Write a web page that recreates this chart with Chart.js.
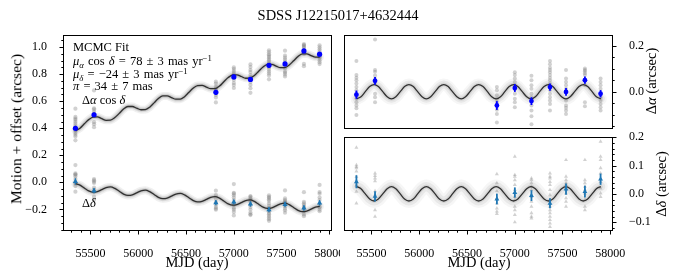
<!DOCTYPE html>
<html><head><meta charset="utf-8">
<script src="https://cdn.jsdelivr.net/npm/chart.js@4/dist/chart.umd.min.js"></script>
<style>
html,body{margin:0;padding:0;background:#fff;}
body{width:677px;height:280px;overflow:hidden;position:relative;font-family:"Liberation Serif",serif;color:#000;}
canvas{position:absolute;}
.t{position:absolute;white-space:nowrap;line-height:1;font-family:"Liberation Serif",serif;color:#000;}
.r{transform:translate(-50%,-50%) rotate(-90deg);}
.c{transform:translate(-50%,0);}
.sb{font-size:70%;vertical-align:-0.3em;}
.sp{font-size:70%;vertical-align:0.5em;}
</style></head><body>
<canvas id="cL" width="340" height="280" style="left:0;top:0"></canvas>
<canvas id="cRA" width="337" height="135" style="left:340px;top:0"></canvas>
<canvas id="cDE" width="337" height="150" style="left:340px;top:130px"></canvas>

<div class="t c" style="left:338px;top:8px;font-size:14.5px">SDSS J12215017+4632444</div>
<div class="t r" style="left:16px;top:129px;font-size:15.5px">Motion + offset (arcsec)</div>
<div class="t c" style="left:197px;top:255px;font-size:14.5px">MJD (day)</div>
<div class="t c" style="left:479px;top:255px;font-size:14.5px">MJD (day)</div>
<div class="t r" style="left:651px;top:81px;font-size:14.5px">Δ<i>α</i> (arcsec)</div>
<div class="t r" style="left:661px;top:184px;font-size:14.5px">Δ<i>δ</i> (arcsec)</div>

<div class="t" style="left:73px;top:41px;font-size:12.5px">MCMC Fit</div>
<div class="t" style="left:73px;top:54px;font-size:12.5px;word-spacing:1px"><i>μ</i><span class="sb"><i>α</i></span> cos <i>δ</i> = 78 ± 3 mas yr<span class="sp">−1</span></div>
<div class="t" style="left:73px;top:67px;font-size:12.5px;word-spacing:1px"><i>μ</i><span class="sb"><i>δ</i></span> = −24 ± 3 mas yr<span class="sp">−1</span></div>
<div class="t" style="left:73px;top:80px;font-size:12.5px;word-spacing:1px"><i>π</i> = 34 ± 7 mas</div>
<div class="t" style="left:82px;top:94px;font-size:12.5px">Δ<i>α</i> cos <i>δ</i></div>
<div class="t" style="left:82px;top:197px;font-size:12.5px">Δ<i>δ</i></div>

<script>
// ---------------- data ----------------
const epochMJD = [55343, 55538, 56814, 57002, 57176, 57370, 57538, 57736, 57900];

// right panels: parallax-only residuals
const raMean  = [-0.013, 0.047, -0.060, 0.016, -0.041, 0.020, -0.001, 0.050, -0.009];
const raErr   = [0.018, 0.017, 0.019, 0.017, 0.017, 0.016, 0.017, 0.016, 0.016];
const decMean = [0.043, -0.009, -0.018, 0.005, -0.006, -0.033, 0.017, 0.008, 0.052];
const decErr  = [0.023, 0.018, 0.019, 0.018, 0.019, 0.018, 0.020, 0.021, 0.020];

// left panel: motion + offset
const raMotionMean  = [0.400, 0.500, 0.666, 0.780, 0.761, 0.866, 0.876, 0.972, 0.948];
const decMotionMean = [0.007, -0.062, -0.151, -0.146, -0.161, -0.203, -0.164, -0.190, -0.152];

const raSingle = [
  [0.133,0.072,0.060,0.050,0.035,0.020,0.006,-0.010,-0.030,-0.046,-0.060,-0.072,-0.101],
  [0.226,0.094,0.086,0.070,0.055,0.040,-0.009,-0.024,-0.046],
  [0.020,0.006,-0.016,-0.031,-0.045,-0.060,-0.078,-0.097,-0.134],
  [0.084,0.072,0.057,0.042,0.028,0.010,-0.009,-0.031,-0.046,-0.068],
  [0.069,0.050,0.028,0.013,-0.009,-0.024,-0.060,-0.082,-0.107,-0.141],
  [0.133,0.119,0.104,0.094,0.084,0.072,0.060,0.050,0.035,0.021,0.006,-0.009,-0.024,-0.038,-0.053,-0.082],
  [0.094,0.057,0.042,0.028,0.013,-0.038,-0.060,-0.070,-0.082,-0.097],
  [0.101,0.094,0.089,0.080,0.072,0.050,0.028,-0.046,-0.063],
  [0.057,0.042,0.028,0.013,-0.024,-0.038,-0.053,-0.068,-0.082]
];
const decSingle = [
  [0.164,0.102,0.096,0.091,0.080,0.060,0.030,0.008,-0.033],
  [0.073,0.064,0.055,0.045,0.010,-0.004,-0.021,-0.057,-0.080],
  [0.070,0.038,0.010,-0.015,-0.033,-0.051,-0.062,-0.070],
  [0.132,0.067,0.061,0.049,0.032,0.014,-0.010,-0.021,-0.045,-0.057,-0.074,-0.100],
  [0.055,0.049,0.038,0.026,0.014,-0.010,-0.027,-0.045,-0.068,-0.080,-0.086],
  [0.073,0.061,0.055,0.043,0.032,0.014,-0.004,-0.021,-0.045,-0.057,-0.068,-0.080,-0.092,-0.104,-0.116],
  [0.120,0.061,0.049,0.038,0.032,0.002,-0.015,-0.027,-0.045],
  [0.120,0.049,0.038,0.026,0.014,0.002,-0.021,-0.045,-0.057],
  [0.185,0.132,0.120,0.091,0.073,0.043,0.020,0.002,-0.010]
];
const raMotionSingle = [
  [0.545,0.484,0.472,0.462,0.447,0.432,0.418,0.402,0.382,0.366,0.352,0.340,0.311],
  [0.680,0.548,0.540,0.524,0.509,0.494,0.445,0.430,0.408],
  [0.745,0.731,0.709,0.694,0.680,0.665,0.647,0.628,0.591],
  [0.850,0.838,0.823,0.808,0.794,0.776,0.757,0.735,0.720,0.698],
  [0.872,0.853,0.831,0.816,0.794,0.779,0.743,0.721,0.696,0.662],
  [0.977,0.963,0.948,0.938,0.928,0.916,0.904,0.894,0.879,0.865,0.850,0.835,0.820,0.806,0.791,0.762],
  [0.974,0.937,0.922,0.908,0.893,0.842,0.820,0.810,0.798,0.783],
  [1.023,1.016,1.011,1.002,0.994,0.972,0.950,0.876,0.859],
  [1.014,0.999,0.985,0.970,0.933,0.919,0.904,0.889,0.875]
];
const decMotionSingle = [
  [0.128,0.066,0.060,0.055,0.044,0.024,-0.006,-0.028,-0.069],
  [0.024,0.015,0.006,-0.004,-0.039,-0.053,-0.070,-0.106,-0.129],
  [-0.062,-0.094,-0.122,-0.147,-0.165,-0.183,-0.194,-0.202],
  [-0.013,-0.078,-0.084,-0.096,-0.113,-0.131,-0.155,-0.166,-0.190,-0.202,-0.219,-0.245],
  [-0.101,-0.107,-0.118,-0.130,-0.142,-0.166,-0.183,-0.201,-0.224,-0.236,-0.242],
  [-0.096,-0.108,-0.114,-0.126,-0.137,-0.155,-0.173,-0.190,-0.214,-0.226,-0.237,-0.249,-0.261,-0.273,-0.285],
  [-0.060,-0.119,-0.131,-0.142,-0.148,-0.178,-0.195,-0.207,-0.225],
  [-0.073,-0.144,-0.155,-0.167,-0.179,-0.191,-0.214,-0.238,-0.250],
  [-0.019,-0.072,-0.084,-0.113,-0.131,-0.161,-0.184,-0.202,-0.214]
];

// model curves
const modelMJD = [
  55345,55391,55436,55482,55528,55573,55619,55665,
  55710,55756,55802,55847,55893,55939,55984,56030,
  56075,56121,56167,56212,56258,56304,56349,56395,
  56441,56486,56532,56578,56623,56669,56715,56760,
  56806,56852,56897,56943,56989,57034,57080,57126,
  57171,57217,57262,57308,57354,57400,57445,57491,
  57537,57582,57628,57674,57719,57765,57811,57856,
  57902];
const raModel = [
  -0.031,-0.022,0,0.022,0.031,0.022,0,-0.022,
  -0.031,-0.022,0,0.022,0.031,0.022,0,-0.022,
  -0.031,-0.022,0,0.022,0.031,0.022,0,-0.022,
  -0.031,-0.022,0,0.022,0.031,0.022,0,-0.022,
  -0.031,-0.022,0,0.022,0.031,0.022,0,-0.022,
  -0.031,-0.022,0,0.022,0.031,0.022,0,-0.022,
  -0.031,-0.022,0,0.022,0.031,0.022,0,-0.022,
  -0.031];
const decModel = [
  0.026,0.018,0,-0.018,-0.025,-0.018,0,0.018,
  0.026,0.018,0,-0.018,-0.025,-0.018,0,0.018,
  0.026,0.018,0,-0.018,-0.025,-0.018,0,0.018,
  0.026,0.018,0,-0.018,-0.025,-0.018,0,0.018,
  0.026,0.018,0,-0.018,-0.025,-0.018,0,0.018,
  0.026,0.018,0,-0.018,-0.025,-0.018,0,0.018,
  0.026,0.018,0,-0.018,-0.025,-0.018,0,0.018,
  0.026];
const raMotionModel = [
  0.382,0.401,0.433,0.464,0.483,0.484,0.471,0.459,
  0.460,0.479,0.510,0.542,0.561,0.561,0.549,0.537,
  0.538,0.556,0.588,0.620,0.639,0.639,0.627,0.615,
  0.615,0.634,0.666,0.698,0.716,0.717,0.705,0.693,
  0.693,0.712,0.744,0.775,0.794,0.795,0.783,0.770,
  0.771,0.790,0.822,0.853,0.872,0.873,0.860,0.848,
  0.849,0.868,0.899,0.931,0.950,0.951,0.938,0.926,
  0.927];
const decMotionModel = [
  -0.010,-0.021,-0.042,-0.063,-0.073,-0.069,-0.054,-0.039,
  -0.034,-0.045,-0.066,-0.087,-0.097,-0.093,-0.078,-0.063,
  -0.058,-0.069,-0.090,-0.111,-0.121,-0.117,-0.102,-0.087,
  -0.082,-0.093,-0.114,-0.135,-0.145,-0.141,-0.126,-0.111,
  -0.106,-0.117,-0.138,-0.159,-0.169,-0.165,-0.150,-0.135,
  -0.130,-0.141,-0.162,-0.183,-0.193,-0.189,-0.174,-0.159,
  -0.154,-0.165,-0.186,-0.207,-0.217,-0.213,-0.198,-0.183,
  -0.178];

// tick labels
const xTicks = [55500, 56000, 56500, 57000, 57500, 58000];
const yTicksLeft = [-0.2, 0.0, 0.2, 0.4, 0.6, 0.8, 1.0];
const yTicksRa = [0.0, 0.2];
const yTicksDec = [-0.1, 0.0, 0.1, 0.2];

// ---------------- helpers ----------------
const X_MIN = 55213, X_MAX = 58030;
const GRAY = 'rgba(128,128,128,0.36)';
const BLUE = '#0000ff';
const TAB = '#1f77b4';
Chart.defaults.font.family = '"Liberation Serif", serif';
Chart.defaults.color = '#000';

const singles = (arr) => epochMJD.flatMap((t, i) => arr[i].map(v => ({x: t, y: v})));
const means = (arr) => epochMJD.map((t, i) => ({x: t, y: arr[i]}));
const curve = (arr) => modelMJD.map((t, i) => ({x: t, y: arr[i]}));
const fmt = v => (v < 0 ? '\u2212' : '') + Math.abs(v).toFixed(1);

function curveSets(arr, halo) {
  const out = [];
  halo.forEach((h, k) => out.push({
    data: curve(arr), showLine: true, pointRadius: 0, borderWidth: h[0],
    borderColor: 'rgba(110,110,110,' + h[1] + ')', cubicInterpolationMode: 'monotone',
    order: 10 - k, borderCapStyle: 'round', borderJoinStyle: 'round'
  }));
  out.push({data: curve(arr), showLine: true, pointRadius: 0, borderWidth: 1.3,
    borderColor: 'rgba(40,40,40,0.95)', cubicInterpolationMode: 'monotone', order: 2});
  return out;
}

const errorBars = {
  id: 'errorBars',
  afterDatasetsDraw(chart) {
    const ctx = chart.ctx, ys = chart.scales.y;
    chart.data.datasets.forEach((ds, i) => {
      if (!ds.errors) return;
      const meta = chart.getDatasetMeta(i);
      ctx.save();
      ctx.strokeStyle = ds.backgroundColor;
      ctx.lineWidth = ds.errWidth || 1.6;
      meta.data.forEach((pt, j) => {
        const v = ds.data[j].y, e = ds.errors[j];
        ctx.beginPath();
        ctx.moveTo(pt.x, ys.getPixelForValue(v - e));
        ctx.lineTo(pt.x, ys.getPixelForValue(v + e));
        ctx.stroke();
      });
      ctx.restore();
    });
  }
};

const axesFrame = {
  id: 'axesFrame',
  afterDraw(chart, args, o) {
    const {ctx, chartArea: a, scales} = chart;
    const L = Math.round(a.left) + 0.5, R = Math.round(a.right) - 0.5;
    const T = Math.round(a.top) + 0.5, B = Math.round(a.bottom) - 0.5;
    ctx.save();
    ctx.strokeStyle = '#000';
    ctx.lineWidth = 1;
    ctx.strokeRect(L, T, R - L, B - T);
    const line = (x1, y1, x2, y2) => { ctx.beginPath(); ctx.moveTo(x1, y1); ctx.lineTo(x2, y2); ctx.stroke(); };
    if (o.xTicks) {
      const xs = scales.x;
      xs.ticks.forEach(t => { const p = Math.round(xs.getPixelForValue(t.value)) + 0.5; line(p, B, p, B + 4); });
      for (let v = Math.ceil(xs.min / 100) * 100; v <= xs.max; v += 100) {
        if (v % 500 === 0) continue;
        const p = Math.round(xs.getPixelForValue(v)) + 0.5; line(p, B, p, B + 2.2);
      }
    }
    const ys = scales.y, side = o.ySide, st = o.yMinor;
    const x0 = side === 'left' ? L : R, dir = side === 'left' ? -1 : 1;
    ys.ticks.forEach(t => { const p = Math.round(ys.getPixelForValue(t.value)) + 0.5; line(x0, p, x0 + dir * 4, p); });
    const n0 = Math.ceil(ys.min / st - 1e-6), n1 = Math.floor(ys.max / st + 1e-6);
    for (let n = n0; n <= n1; n++) {
      const v = n * st;
      if (ys.ticks.some(t => Math.abs(t.value - v) < 1e-6)) continue;
      const p = Math.round(ys.getPixelForValue(v)) + 0.5; line(x0, p, x0 + dir * 2.2, p);
    }
    ctx.restore();
  }
};

function build(id, o) {
  return new Chart(document.getElementById(id), {
    type: 'scatter',
    data: {datasets: o.datasets},
    plugins: [errorBars, axesFrame],
    options: {
      responsive: false, animation: false, devicePixelRatio: 1,
      layout: {padding: o.padding, autoPadding: false},
      plugins: {legend: {display: false}, tooltip: {enabled: false},
        axesFrame: {xTicks: o.showX, ySide: o.yPos, yMinor: o.yMinor}},
      scales: {
        x: {type: 'linear', min: X_MIN, max: X_MAX, display: o.showX,
          afterBuildTicks: s => { s.ticks = xTicks.map(v => ({value: v})); },
          afterFit: s => { s.height = o.xHeight; s.paddingLeft = 0; s.paddingRight = 0; s.paddingTop = 0; s.paddingBottom = 0; },
          grid: {display: false}, border: {display: false},
          ticks: {padding: 8, autoSkip: false, maxRotation: 0, font: {size: 12}, color: '#000',
            callback: v => String(v)}},
        y: {type: 'linear', position: o.yPos, min: o.yMin, max: o.yMax,
          afterBuildTicks: s => { s.ticks = o.yTicks.map(v => ({value: v})); },
          afterFit: s => { s.width = o.yWidth; s.paddingTop = 0; s.paddingBottom = 0; s.paddingLeft = 0; s.paddingRight = 0; },
          grid: {display: false}, border: {display: false},
          ticks: {padding: 8, autoSkip: false, font: {size: 12}, color: '#000', callback: fmt}}
      }
    }
  });
}

// left panel
build('cL', {
  padding: {left: 0, top: 35, right: 8, bottom: 0},
  showX: true, xHeight: 49, yPos: 'left', yWidth: 63,
  yMin: -0.36, yMax: 1.09, yTicks: yTicksLeft, yMinor: 0.05,
  datasets: [
    {data: means(raMotionMean), pointStyle: 'circle', pointRadius: 2.6, backgroundColor: BLUE, borderWidth: 0,
      errors: raErr, errWidth: 1.4, order: 0},
    {data: means(decMotionMean), pointStyle: 'triangle', pointRadius: 3, backgroundColor: TAB, borderWidth: 0,
      errors: decErr, errWidth: 1.4, order: 0},
    ...curveSets(raMotionModel, [[8, 0.10], [5, 0.16], [3, 0.22]]),
    ...curveSets(decMotionModel, [[8, 0.10], [5, 0.16], [3, 0.22]]),
    {data: singles(raMotionSingle), pointRadius: 2.1, backgroundColor: GRAY, borderWidth: 0, order: 20},
    {data: singles(decMotionSingle), pointRadius: 2.1, backgroundColor: GRAY, borderWidth: 0, order: 20}
  ]
});

// right top: delta alpha
build('cRA', {
  padding: {left: 4, top: 35, right: 0, bottom: 6},
  showX: false, xHeight: 0, yPos: 'right', yWidth: 64,
  yMin: -0.162, yMax: 0.246, yTicks: yTicksRa, yMinor: 0.05,
  datasets: [
    {data: means(raMean), pointStyle: 'circle', pointRadius: 2.4, backgroundColor: BLUE, borderWidth: 0,
      errors: raErr, errWidth: 1.8, order: 0},
    ...curveSets(raModel, [[12, 0.06], [8, 0.10], [4, 0.16]]),
    {data: singles(raSingle), pointRadius: 2, backgroundColor: GRAY, borderWidth: 0, order: 20}
  ]
});

// right bottom: delta delta
build('cDE', {
  padding: {left: 4, top: 7, right: 0, bottom: 0},
  showX: true, xHeight: 49, yPos: 'right', yWidth: 64,
  yMin: -0.131, yMax: 0.201, yTicks: yTicksDec, yMinor: 0.02,
  datasets: [
    {data: means(decMean), pointStyle: 'triangle', pointRadius: 2.8, backgroundColor: TAB, borderWidth: 0,
      errors: decErr, errWidth: 1.8, order: 0},
    ...curveSets(decModel, [[14, 0.06], [9, 0.10], [4, 0.16]]),
    {data: singles(decSingle), pointStyle: 'triangle', pointRadius: 2.3, backgroundColor: GRAY, borderWidth: 0, order: 20}
  ]
});
</script>
</body></html>
